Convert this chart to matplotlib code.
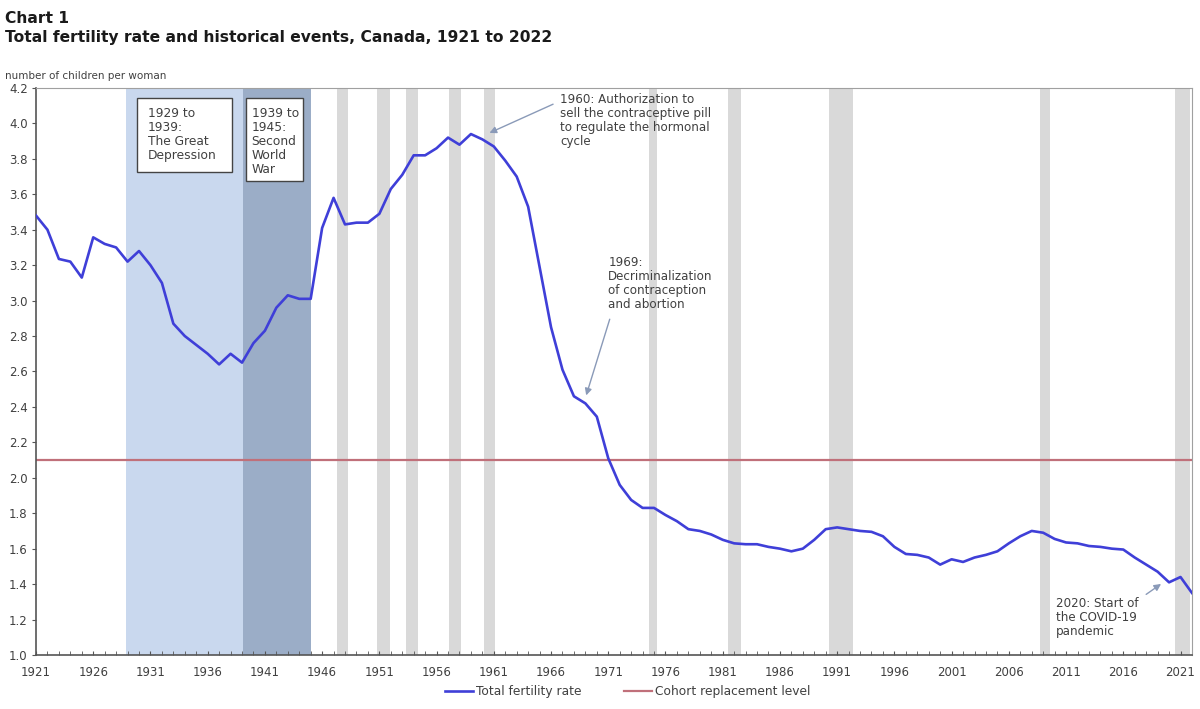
import matplotlib
matplotlib.use("Agg")
import matplotlib.pyplot as plt
from matplotlib.patches import Rectangle
import numpy as np

# Données
years = list(range(1921, 2023))
fertility = [
    3.48, 3.40, 3.235, 3.22, 3.13, 3.357, 3.32, 3.30, 3.22, 3.28,   # 1921-1930
    3.20, 3.10, 2.87, 2.80, 2.75, 2.70, 2.64, 2.70, 2.65, 2.76,     # 1931-1940
    2.83, 2.96, 3.03, 3.01, 3.01, 3.41, 3.58, 3.43, 3.44, 3.44,     # 1941-1950
    3.49, 3.63, 3.71, 3.82, 3.82, 3.86, 3.92, 3.88, 3.94, 3.91,     # 1951-1960
    3.87, 3.79, 3.70, 3.53, 3.19, 2.85, 2.61, 2.46, 2.42, 2.345,    # 1961-1970
    2.11, 1.96, 1.875, 1.83, 1.83, 1.79, 1.755, 1.71, 1.70, 1.68,   # 1971-1980
    1.65, 1.63, 1.625, 1.625, 1.61, 1.60, 1.585, 1.60, 1.65, 1.71,  # 1981-1990
    1.72, 1.71, 1.70, 1.695, 1.67, 1.61, 1.57, 1.565, 1.55, 1.51,   # 1991-2000
    1.54, 1.525, 1.55, 1.565, 1.585, 1.63, 1.67, 1.70, 1.69, 1.655, # 2001-2010
    1.635, 1.63, 1.615, 1.61, 1.60, 1.595, 1.55, 1.51, 1.47, 1.41,  # 2011-2020
    1.44, 1.35,                                                     # 2021-2022
]
replacement_level = 2.1

# Périodes historiques (début, fin)
depression = (1928.9, 1939.1)
world_war = (1939.1, 1945.0)
recessions = [
    (1947.3, 1948.3), (1950.8, 1951.9), (1953.3, 1954.4), (1957.1, 1958.1),
    (1960.1, 1961.1), (1974.6, 1975.25), (1981.5, 1982.6), (1990.3, 1992.4),
    (2008.7, 2009.6), (2020.5, 2021.8),
]

tick_years = list(range(1921, 2023, 5))
y_ticks = np.arange(1.0, 4.21, 0.2)

txt_color = "#404040"
plt.rcParams["font.family"] = ["DejaVu Sans"]

fig = plt.figure(figsize=(12, 7.09), dpi=100)
ax = fig.add_axes([0.03, 0.0762, 0.9633, 0.7997])

# Zones colorées
ax.axvspan(*depression, color="#c9d8ee", lw=0, zorder=0)
ax.axvspan(*world_war, color="#9badc7", lw=0, zorder=0)
for a, b in recessions:
    ax.axvspan(a, b, color="#d9d9d9", lw=0, zorder=0)

ax.axhline(replacement_level, color="#c0707a", lw=1.6, zorder=2,
           label="Cohort replacement level")
ax.plot(years, fertility, color="#3f3fd8", lw=1.9, zorder=3,
        label="Total fertility rate")

ax.set_xlim(1921, 2022)
ax.set_ylim(1.0, 4.2)
ax.set_yticks(y_ticks)
ax.set_yticklabels([f"{v:.1f}" for v in y_ticks])
ax.set_xticks(tick_years)
ax.set_xticks(years, minor=True)
ax.tick_params(axis="x", which="both", direction="in", length=3,
               colors="#555555", labelcolor=txt_color, labelsize=8.5, pad=8)
ax.tick_params(axis="y", direction="out", length=3, colors="#555555",
               labelcolor=txt_color, labelsize=8.5, pad=3)

for side in ["top", "right"]:
    ax.spines[side].set_color("#a0a0a0")
for side in ["left", "bottom"]:
    ax.spines[side].set_color("#555555")
    ax.spines[side].set_linewidth(1.2)

# Boîtes de texte (taille fixe comme dans l'original)
ax.add_patch(Rectangle((1929.83, 3.726), 1938.13 - 1929.83, 4.144 - 3.726,
                       fc="white", ec="#444444", lw=1, zorder=4))
ax.text(1930.75, 4.09, "1929 to\n1939:\nThe Great\nDepression", fontsize=8.8,
        va="top", ha="left", color=txt_color, linespacing=1.1, zorder=5)
ax.add_patch(Rectangle((1939.36, 3.675), 1944.34 - 1939.36, 4.144 - 3.675,
                       fc="white", ec="#444444", lw=1, zorder=4))
ax.text(1939.85, 4.09, "1939 to\n1945:\nSecond\nWorld\nWar", fontsize=8.8,
        va="top", ha="left", color=txt_color, linespacing=1.1, zorder=5)

# Annotations avec flèches
arrow = dict(arrowstyle="-|>", color="#8a9ab8", lw=1, mutation_scale=10)
ax.text(1966.8, 4.17, "1960: Authorization to\nsell the contraceptive pill\nto regulate the hormonal\ncycle",
        fontsize=8.6, color=txt_color, va="top", ha="left", linespacing=1.1)
ax.annotate("", xy=(1960.4, 3.94), xytext=(1966.4, 4.115), arrowprops=arrow)
ax.text(1971.0, 3.25, "1969:\nDecriminalization\nof contraception\nand abortion",
        fontsize=8.6, color=txt_color, va="top", ha="left", linespacing=1.1)
ax.annotate("", xy=(1969.0, 2.45), xytext=(1971.2, 2.91), arrowprops=arrow)
ax.text(2010.1, 1.33, "2020: Start of\nthe COVID-19\npandemic",
        fontsize=8.6, color=txt_color, va="top", ha="left", linespacing=1.1)
ax.annotate("", xy=(2019.5, 1.41), xytext=(2017.8, 1.333), arrowprops=arrow)

# Titres
fig.text(0.004, 0.985, "Chart 1", fontsize=11.2, fontweight="bold",
         color="#1a1a1a", va="top")
fig.text(0.004, 0.958, "Total fertility rate and historical events, Canada, 1921 to 2022",
         fontsize=11.2, fontweight="bold", color="#1a1a1a", va="top")
fig.text(0.004, 0.9, "number of children per woman", fontsize=7.5,
         color=txt_color, va="top")

# Légende
handles, labels = ax.get_legend_handles_labels()
fig.legend(handles[::-1], labels[::-1], loc="lower center", ncol=2,
           bbox_to_anchor=(0.523, 0.0), frameon=False, fontsize=8.8,
           handlelength=2.3, handletextpad=0.25, columnspacing=3.5,
           labelcolor=txt_color)

fig.savefig("out.png", dpi=100)
